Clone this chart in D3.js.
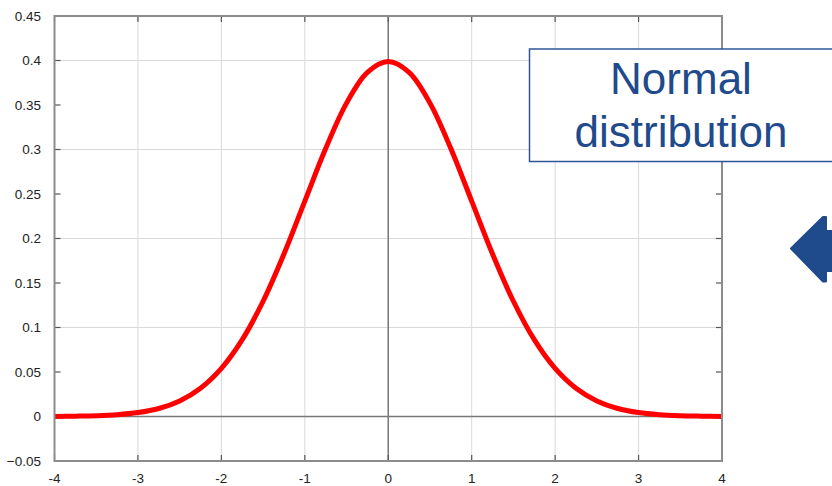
<!DOCTYPE html>
<html>
<head>
<meta charset="utf-8">
<script src="https://cdn.jsdelivr.net/npm/d3@7"></script>
<style>
  body { margin: 0; background: #fff; }
  svg { display: block; font-family: "Liberation Sans", Arial, sans-serif; }
</style>
</head>
<body>
<div id="chart"></div>
<script>
// values
const xs = [-4, -3.75, -3.5, -3.25, -3, -2.75, -2.5, -2.25, -2, -1.75, -1.5, -1.25, -1, -0.75, -0.5, -0.25,
            0, 0.25, 0.5, 0.75, 1, 1.25, 1.5, 1.75, 2, 2.25, 2.5, 2.75, 3, 3.25, 3.5, 3.75, 4];
const ys = [0.0001, 0.0004, 0.0009, 0.002, 0.0044, 0.009, 0.0175, 0.0317, 0.054, 0.0863, 0.1295, 0.1826, 0.242, 0.3011, 0.3521, 0.3867,
            0.3989, 0.3867, 0.3521, 0.3011, 0.242, 0.1826, 0.1295, 0.0863, 0.054, 0.0317, 0.0175, 0.009, 0.0044, 0.002, 0.0009, 0.0004, 0.0001];
const xTicks = [-4, -3, -2, -1, 0, 1, 2, 3, 4];
const yTicks = [-0.05, 0, 0.05, 0.1, 0.15, 0.2, 0.25, 0.3, 0.35, 0.4, 0.45];
const yGrid = [0.1, 0.2, 0.3, 0.4];
const titleLines = ["Normal", "distribution"];

const W = 832, H = 486;
const margin = {left: 54.5, right: 110, top: 16, bottom: 25};

const svg = d3.select("#chart").append("svg").attr("width", W).attr("height", H);

const x = d3.scaleLinear().domain([-4, 4]).range([margin.left, W - margin.right]);
const y = d3.scaleLinear().domain([-0.05, 0.45]).range([H - margin.bottom, margin.top]);

const grid = svg.append("g");
grid.selectAll(".vgrid").data(xTicks.filter(d => d !== 0 && d !== -4 && d !== 4))
    .enter().append("line")
    .attr("x1", d => x(d)).attr("x2", d => x(d))
    .attr("y1", y(0.45)).attr("y2", y(-0.05))
    .attr("stroke", "#d9d9d9").attr("stroke-width", 1);
grid.selectAll(".hgrid").data(yGrid)
    .enter().append("line")
    .attr("x1", x(-4)).attr("x2", x(4))
    .attr("y1", d => y(d)).attr("y2", d => y(d))
    .attr("stroke", "#d9d9d9").attr("stroke-width", 1);

// zero axes
svg.append("line")
    .attr("x1", x(0)).attr("x2", x(0)).attr("y1", y(0.45)).attr("y2", y(-0.05))
    .attr("stroke", "#777").attr("stroke-width", 1.5);
svg.append("line")
    .attr("x1", x(-4)).attr("x2", x(4)).attr("y1", y(0)).attr("y2", y(0))
    .attr("stroke", "#777").attr("stroke-width", 1.5);

// inward tick marks on all four sides
const tickLen = 6;
const ticks = svg.append("g").attr("stroke", "#555").attr("stroke-width", 1.2);
ticks.selectAll(".tl").data(yTicks).enter().append("line")
    .attr("x1", x(-4)).attr("x2", x(-4) + tickLen)
    .attr("y1", d => y(d)).attr("y2", d => y(d));
ticks.selectAll(".tr").data(yTicks).enter().append("line")
    .attr("x1", x(4)).attr("x2", x(4) - tickLen)
    .attr("y1", d => y(d)).attr("y2", d => y(d));
ticks.selectAll(".tb").data(xTicks).enter().append("line")
    .attr("x1", d => x(d)).attr("x2", d => x(d))
    .attr("y1", y(-0.05)).attr("y2", y(-0.05) - tickLen);
ticks.selectAll(".tt").data(xTicks).enter().append("line")
    .attr("x1", d => x(d)).attr("x2", d => x(d))
    .attr("y1", y(0.45)).attr("y2", y(0.45) + tickLen);

// the curve
const pts = xs.map((d, i) => [d, ys[i]]);
svg.append("path")
    .datum(pts)
    .attr("fill", "none")
    .attr("stroke", "#ff0000")
    .attr("stroke-width", 5)
    .attr("stroke-linejoin", "round")
    .attr("d", d3.line().x(d => x(d[0])).y(d => y(d[1])).curve(d3.curveCatmullRom.alpha(0.5)));

// frame
svg.append("rect")
    .attr("x", x(-4)).attr("y", y(0.45))
    .attr("width", x(4) - x(-4)).attr("height", y(-0.05) - y(0.45))
    .attr("fill", "none").attr("stroke", "#8c8c8c").attr("stroke-width", 2);

// tick labels
svg.selectAll(".ylab").data(yTicks).enter().append("text")
    .attr("x", 41).attr("y", d => y(d) + 4.5)
    .attr("text-anchor", "end").attr("font-size", 13.5).attr("fill", "#222")
    .text(d => d3.format("~g")(d));
svg.selectAll(".xlab").data(xTicks).enter().append("text")
    .attr("x", d => x(d)).attr("y", y(-0.05) + 22)
    .attr("text-anchor", "middle").attr("font-size", 13.5).attr("fill", "#222")
    .text(d => d);

// title box
const box = svg.append("g");
box.append("rect")
    .attr("x", 529.5).attr("y", 49).attr("width", 320).attr("height", 112.5)
    .attr("fill", "#fff").attr("stroke", "#2f5597").attr("stroke-width", 1.5);
box.selectAll("text").data(titleLines).enter().append("text")
    .attr("x", 681).attr("y", (d, i) => 94 + i * 52.5)
    .attr("text-anchor", "middle").attr("font-size", 44).attr("fill", "#1f4a8c")
    .text(d => d);

// arrow at the right edge
const arrow = d3.path();
arrow.moveTo(791, 248.5);
arrow.lineTo(823, 217);
arrow.lineTo(826, 217);
arrow.lineTo(826, 231);
arrow.lineTo(840, 231);
arrow.lineTo(840, 271);
arrow.lineTo(826, 271);
arrow.lineTo(826, 281.5);
arrow.lineTo(823, 281.5);
arrow.closePath();
svg.append("path").attr("d", arrow.toString())
    .attr("fill", "#1f4a8c").attr("stroke", "#1f4a8c").attr("stroke-width", 2).attr("stroke-linejoin", "round");
</script>
</body>
</html>
